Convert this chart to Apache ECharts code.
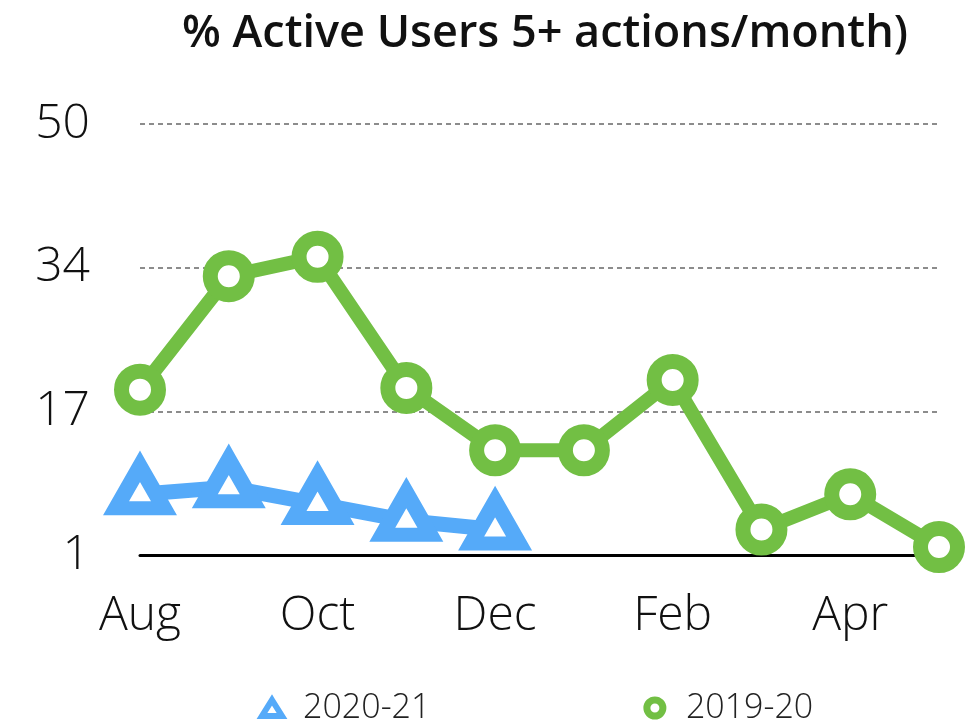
<!DOCTYPE html>
<html>
<head>
<meta charset="utf-8">
<script src="https://cdn.jsdelivr.net/npm/echarts@6/dist/echarts.min.js"></script>
<style>
  html, body { margin: 0; padding: 0; background: #fff; }
  #main { width: 971px; height: 721px; }
</style>
</head>
<body>
<div id="main"></div>
<script>
// months on the x axis
var months = ["Aug", "Sep", "Oct", "Nov", "Dec", "Jan", "Feb", "Mar", "Apr", "May"];
// % active users
var season2021 = [7.9, 8.7, 6.8, 4.9, 3.9];
var season1920 = [19.8, 32.7, 34.9, 20.0, 12.9, 12.9, 20.9, 3.9, 7.9, 1.9];
var yTickLabels = ["1", "17", "34", "50"];

var blue = "#55aaf9";
var green = "#72bf44";
var font = "'Open Sans', Lato, sans-serif";

var chart = echarts.init(document.getElementById("main"));

chart.setOption({
  animation: false,
  title: {
    text: "% Active Users 5+ actions/month)",
    left: 540,
    textAlign: "center",
    top: 7,
    textStyle: { fontFamily: font, fontSize: 45, fontWeight: 600, color: "#111" }
  },
  legend: {
    top: 686,
    left: 254,
    itemGap: 213,
    itemWidth: 20,
    itemHeight: 16,
    textStyle: { fontFamily: font, fontSize: 34, fontWeight: 300, color: "#222", padding: [0, 0, 0, 16] },
    data: [
      { name: "2020-21", icon: "triangle",
        itemStyle: { color: "#fff", borderColor: blue, borderWidth: 6 } },
      { name: "2019-20", icon: "circle",
        itemStyle: { color: "#fff", borderColor: green, borderWidth: 7 } }
    ]
  },
  grid: { left: 140, right: 32, top: 124, bottom: 166 },
  xAxis: {
    type: "category",
    data: months,
    boundaryGap: false,
    axisLine: { lineStyle: { color: "#000", width: 3 } },
    axisTick: { show: false },
    axisLabel: { interval: 1, margin: 37, fontFamily: font, fontSize: 48, fontWeight: 300, color: "#111" }
  },
  yAxis: {
    type: "value",
    min: 1,
    max: 50,
    interval: 49 / 3,
    axisLine: { show: false },
    axisTick: { show: false },
    axisLabel: {
      margin: 50,
      fontFamily: font, fontSize: 48, fontWeight: 300, color: "#111",
      formatter: function (v, i) { return yTickLabels[i]; }
    },
    splitLine: {
      showMinLine: false,
      lineStyle: { color: "#8c8c8c", width: 2, type: [5, 4] }
    }
  },
  series: [
    {
      name: "2020-21",
      type: "line",
      data: season2021,
      symbol: "triangle",
      symbolSize: [48, 42],
      symbolOffset: [0, -7],
      lineStyle: { color: blue, width: 15 },
      itemStyle: { color: "#fff", borderColor: blue, borderWidth: 15 },
      z: 3
    },
    {
      name: "2019-20",
      type: "line",
      data: season1920,
      symbol: "circle",
      symbolSize: 37,
      lineStyle: { color: green, width: 14 },
      itemStyle: { color: "#fff", borderColor: green, borderWidth: 15 },
      z: 2
    }
  ]
});
</script>
</body>
</html>
